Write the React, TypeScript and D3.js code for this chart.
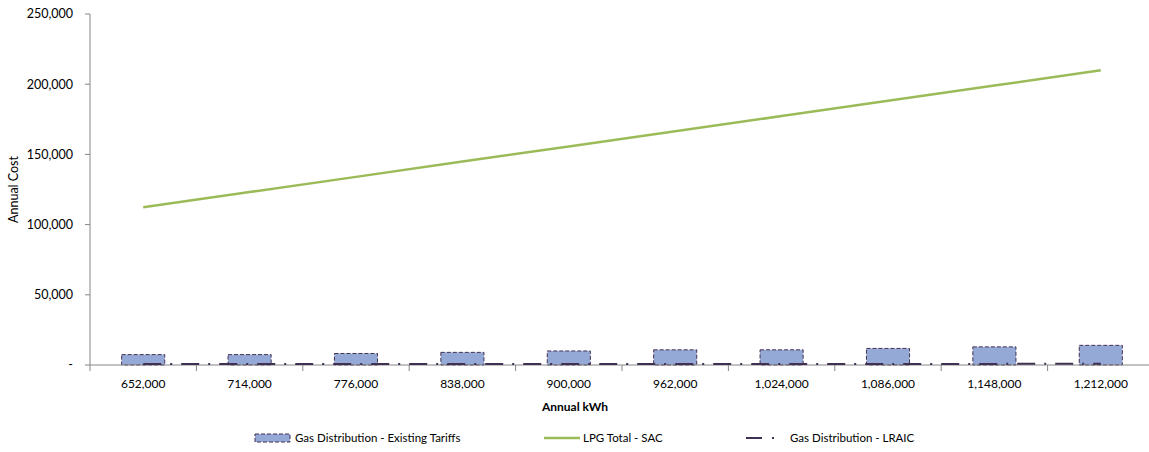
import React from "react";
import * as d3 from "d3";

// values
const kwhLabels = ["652,000", "714,000", "776,000", "838,000", "900,000", "962,000", "1,024,000", "1,086,000", "1,148,000", "1,212,000"];
const existingTariffs = [7400, 7400, 8200, 9000, 10000, 10800, 10800, 11800, 12900, 14000];
const lpgTotalSac = [112300, 123200, 134000, 144900, 155700, 166500, 177300, 188200, 199000, 210000];
const lraic = [650, 660, 680, 700, 720, 740, 760, 780, 800, 820];
const yTicks = [0, 50000, 100000, 150000, 200000, 250000];

const W = 1149;
const H = 452;
const margin = { left: 90, top: 14, bottom: 87 };
const plotRight = 1154;

const FONT = "Lato, 'DejaVu Sans', sans-serif";
const axisColor = "#868686";
const barFill = "#95A9D6";
const barStroke = "#403152";
const lpgColor = "#9BBB59";
const lraicColor = "#403152";

export default function App() {
  const x = d3.scaleBand<string>().domain(kwhLabels).range([margin.left, plotRight]);
  const y = d3.scaleLinear().domain([0, 250000]).range([H - margin.bottom, margin.top]);
  const fmt = d3.format(",");
  const barW = x.bandwidth() * 0.405;
  const cx = (i: number) => (x(kwhLabels[i]) ?? 0) + x.bandwidth() / 2;

  const line = d3
    .line<number>()
    .x((_d, i) => cx(i))
    .y((d) => y(d));

  const y0 = y(0);

  return (
    <svg
      width={W}
      height={H}
      style={{ position: "absolute", left: 0, top: 0, background: "#fff" }}
      fontFamily={FONT}
    >
      {/* y axis */}
      <line x1={margin.left} x2={margin.left} y1={y(250000)} y2={y0} stroke={axisColor} />
      {yTicks.map((t) => (
        <g key={t}>
          <line x1={margin.left - 5} x2={margin.left} y1={y(t)} y2={y(t)} stroke={axisColor} />
          <text x={73} y={y(t)} dy="0.35em" textAnchor="end" fontSize={12.5} fill="#000">
            {t === 0 ? "-" : fmt(t)}
          </text>
        </g>
      ))}
      <text
        transform={`translate(18,${(y(0) + y(250000)) / 2}) rotate(-90)`}
        textAnchor="middle"
        fontSize={12.5}
        fill="#000"
      >
        Annual Cost
      </text>

      {/* bars */}
      {existingTariffs.map((v, i) => (
        <rect
          key={i}
          x={cx(i) - barW / 2}
          y={y(v)}
          width={barW}
          height={y0 - y(v)}
          fill={barFill}
          stroke={barStroke}
          strokeWidth={1}
          strokeDasharray="4,2"
        />
      ))}

      {/* x axis */}
      <line x1={margin.left} x2={plotRight} y1={y0} y2={y0} stroke={axisColor} />
      {kwhLabels.map((k) => (
        <line
          key={k}
          x1={x(k) ?? 0}
          x2={x(k) ?? 0}
          y1={y0}
          y2={y0 + 6}
          stroke={axisColor}
        />
      ))}
      {kwhLabels.map((k, i) => (
        <text key={k} x={cx(i)} y={384} dy="0.35em" textAnchor="middle" fontSize={12} fill="#000">
          {k}
        </text>
      ))}
      <text x={575} y={407} dy="0.35em" textAnchor="middle" fontSize={12} fontWeight="bold" fill="#000">
        Annual kWh
      </text>

      {/* lines */}
      <path d={line(lpgTotalSac) ?? ""} fill="none" stroke={lpgColor} strokeWidth={2.5} />
      <path
        d={line(lraic) ?? ""}
        fill="none"
        stroke={lraicColor}
        strokeWidth={2}
        strokeDasharray="18,9,2,9"
      />

      {/* legend */}
      <g fontSize={11.5} fill="#000">
        <rect x={255} y={434} width={35} height={8} fill={barFill} stroke={barStroke} strokeDasharray="4,2" />
        <text x={295} y={438} dy="0.35em">Gas Distribution - Existing Tariffs</text>
        <line x1={544} x2={580} y1={438} y2={438} stroke={lpgColor} strokeWidth={2.5} />
        <text x={583} y={438} dy="0.35em">LPG Total - SAC</text>
        <line x1={746} x2={780} y1={438} y2={438} stroke={lraicColor} strokeWidth={2} strokeDasharray="16,10,2,9" />
        <text x={790} y={438} dy="0.35em">Gas Distribution - LRAIC</text>
      </g>
    </svg>
  );
}
